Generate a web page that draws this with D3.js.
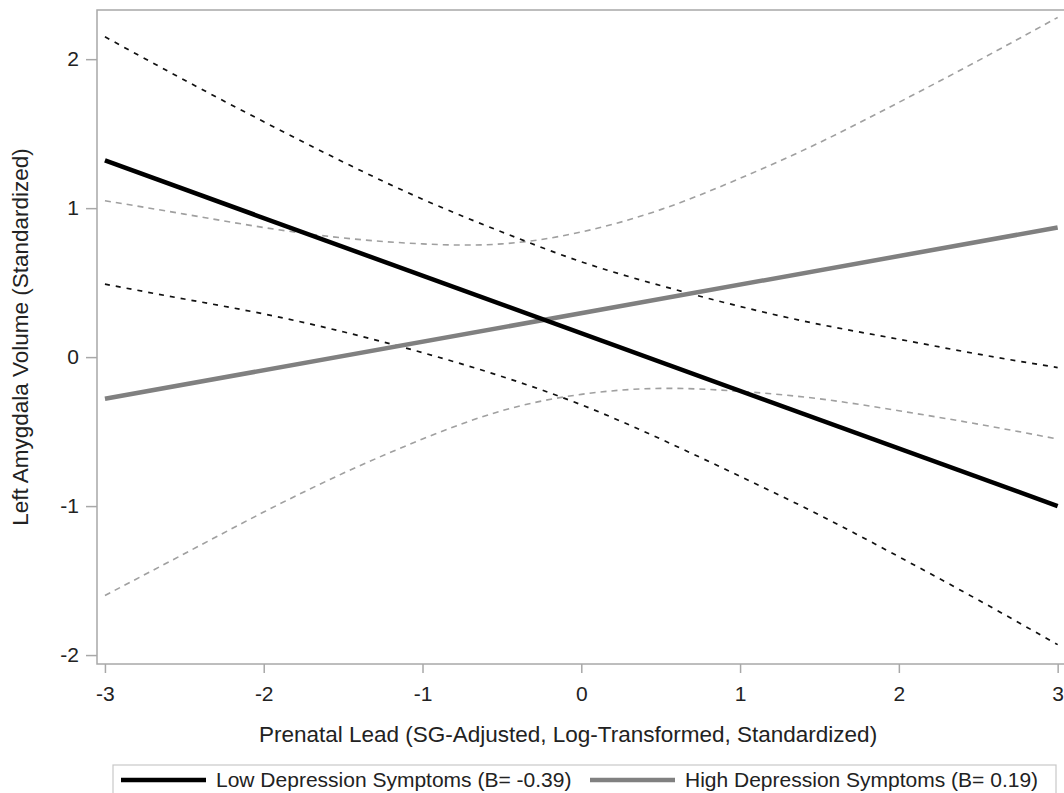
<!DOCTYPE html>
<html>
<head>
<meta charset="utf-8">
<script src="https://cdn.jsdelivr.net/npm/d3@7"></script>
<style>
  body { margin: 0; background: #fff; }
  svg { display: block; font-family: "Liberation Sans", Arial, sans-serif; }
</style>
</head>
<body>
<svg id="chart" width="1064" height="793"></svg>
<script>
// values
const xTicks = [-3, -2, -1, 0, 1, 2, 3];
const yTicks = [-2, -1, 0, 1, 2];

const fitX = [-3, 3];
const lowFit = [1.32, -1.00];
const highFit = [-0.28, 0.87];

const bandX = [-3, -2.5, -2, -1.5, -1, -0.5, 0, 0.5, 1, 1.5, 2, 2.5, 3];
const lowUpper = [2.15, 1.86, 1.58, 1.31, 1.06, 0.84, 0.64, 0.48, 0.34, 0.22, 0.12, 0.02, -0.07];
const lowLower = [0.49, 0.39, 0.29, 0.17, 0.03, -0.13, -0.32, -0.55, -0.80, -1.06, -1.34, -1.63, -1.93];
const highUpper = [1.05, 0.96, 0.87, 0.80, 0.76, 0.76, 0.84, 0.99, 1.20, 1.44, 1.71, 1.99, 2.28];
const highLower = [-1.60, -1.32, -1.04, -0.78, -0.55, -0.36, -0.25, -0.21, -0.23, -0.28, -0.36, -0.45, -0.55];

const legendLabels = ['Low Depression Symptoms (B= -0.39)', 'High Depression Symptoms (B= 0.19)'];

const svg = d3.select('#chart');

const plotLeft = 97, plotTop = 10, plotRight = 1064, plotBottom = 664;

const xScale = d3.scaleLinear().domain([-3.05, 3.04]).range([plotLeft, plotRight]);
const yScale = d3.scaleLinear().domain([-2.06, 2.33]).range([plotBottom, plotTop]);

svg.append('defs').append('clipPath').attr('id', 'plotclip')
  .append('rect')
  .attr('x', plotLeft).attr('y', plotTop)
  .attr('width', plotRight - plotLeft).attr('height', plotBottom - plotTop);

// frame
svg.append('rect')
  .attr('x', plotLeft).attr('y', plotTop)
  .attr('width', plotRight - plotLeft + 2).attr('height', plotBottom - plotTop)
  .attr('fill', 'none')
  .attr('stroke', '#a8a8a8')
  .attr('stroke-width', 1.5);

// axes
const xAxis = svg.append('g')
  .attr('transform', `translate(0,${plotBottom})`)
  .call(d3.axisBottom(xScale).tickValues(xTicks).tickFormat(d3.format('d')).tickSize(9).tickPadding(13));
const yAxis = svg.append('g')
  .attr('transform', `translate(${plotLeft},0)`)
  .call(d3.axisLeft(yScale).tickValues(yTicks).tickFormat(d3.format('d')).tickSize(11).tickPadding(7));

[xAxis, yAxis].forEach(ax => {
  ax.select('.domain').remove();
  ax.selectAll('line').attr('stroke', '#a8a8a8').attr('stroke-width', 1.5);
  ax.selectAll('text')
    .attr('fill', '#222')
    .style('font-size', '21px')
    .style('font-family', '"Liberation Sans", Arial, sans-serif')
    .text(d => d < 0 ? '-' + Math.abs(d) : d);
});

svg.append('text')
  .attr('x', 568).attr('y', 742)
  .attr('text-anchor', 'middle')
  .attr('fill', '#222')
  .style('font-size', '22.5px')
  .text('Prenatal Lead (SG-Adjusted, Log-Transformed, Standardized)');

svg.append('text')
  .attr('transform', 'translate(28,337) rotate(-90)')
  .attr('text-anchor', 'middle')
  .attr('fill', '#222')
  .style('font-size', '22.5px')
  .text('Left Amygdala Volume (Standardized)');

// lines
const plot = svg.append('g').attr('clip-path', 'url(#plotclip)');

const band = d3.line()
  .x((d, i) => xScale(bandX[i]))
  .y(d => yScale(d))
  .curve(d3.curveNatural);

const fit = d3.line()
  .x((d, i) => xScale(fitX[i]))
  .y(d => yScale(d));

plot.selectAll('.band-high')
  .data([highUpper, highLower])
  .enter()
  .append('path')
  .classed('band-high', true)
  .attr('d', band)
  .attr('fill', 'none')
  .attr('stroke', '#a0a0a0')
  .attr('stroke-width', 1.6)
  .attr('stroke-dasharray', '6,5');

plot.selectAll('.band-low')
  .data([lowUpper, lowLower])
  .enter()
  .append('path')
  .classed('band-low', true)
  .attr('d', band)
  .attr('fill', 'none')
  .attr('stroke', '#111')
  .attr('stroke-width', 1.7)
  .attr('stroke-dasharray', '5,6');

plot.append('path')
  .attr('d', fit(highFit))
  .attr('fill', 'none')
  .attr('stroke', '#808080')
  .attr('stroke-width', 4.5);

plot.append('path')
  .attr('d', fit(lowFit))
  .attr('fill', 'none')
  .attr('stroke', '#000')
  .attr('stroke-width', 4.5);

// legend
const legend = svg.append('g');
legend.append('rect')
  .attr('x', 113).attr('y', 765)
  .attr('width', 943).attr('height', 40)
  .attr('fill', 'none')
  .attr('stroke', '#c8c8c8')
  .attr('stroke-width', 1.2);

const legendX = [121, 590];
const legendColors = ['#000', '#808080'];
legendLabels.forEach((label, i) => {
  legend.append('line')
    .attr('x1', legendX[i]).attr('x2', legendX[i] + 85)
    .attr('y1', 780).attr('y2', 780)
    .attr('stroke', legendColors[i])
    .attr('stroke-width', 4.5);
  legend.append('text')
    .attr('x', legendX[i] + 95).attr('y', 787)
    .attr('fill', '#222')
    .style('font-size', '21px')
    .text(label);
});
</script>
</body>
</html>
